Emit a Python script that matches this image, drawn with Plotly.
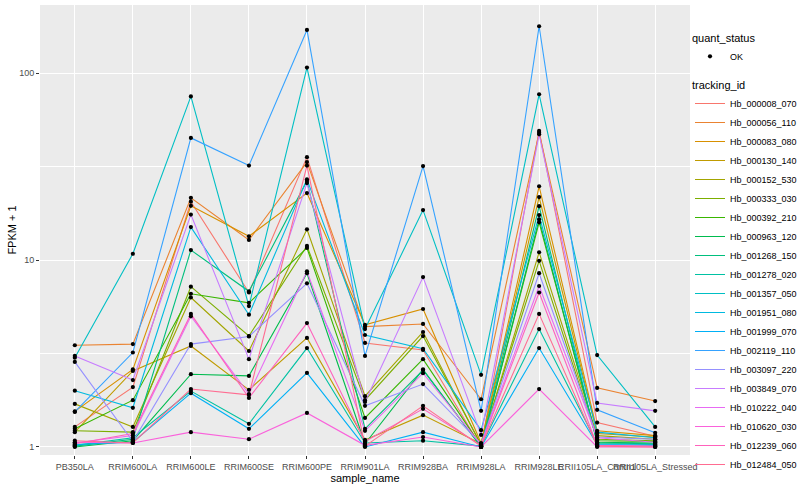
import plotly.graph_objects as go

samples = ["PB350LA", "RRIM600LA", "RRIM600LE", "RRIM600SE", "RRIM600PE", "RRIM901LA",
           "RRIM928BA", "RRIM928LA", "RRIM928LE", "RRII105LA_Control", "RRII105LA_Stressed"]

tracking_ids = ["Hb_000008_070", "Hb_000056_110", "Hb_000083_080", "Hb_000130_140", "Hb_000152_530",
                "Hb_000333_030", "Hb_000392_210", "Hb_000963_120", "Hb_001268_150", "Hb_001278_020",
                "Hb_001357_050", "Hb_001951_080", "Hb_001999_070", "Hb_002119_110", "Hb_003097_220",
                "Hb_003849_070", "Hb_010222_040", "Hb_010620_030", "Hb_012239_060", "Hb_012484_050"]

colors = ["#F8766D", "#EA8331", "#D89000", "#C09B00", "#A3A500", "#7CAE00", "#39B600", "#00BB4E",
          "#00BF7D", "#00C1A3", "#00BFC4", "#00BAE0", "#00B0F6", "#35A2FF", "#9590FF", "#C77CFF",
          "#E76BF3", "#FA62DB", "#FF62BC", "#FF6C91"]

# FPKM + 1 per tracking_id, in sample order
fpkm_plus1 = [
    [1.28, 2.09, 20.5, 6.7, 35.5, 3.6, 3.3, 1.0, 49, 1.35, 1.14],
    [3.5, 3.55, 21.5, 12.8, 33.4, 4.4, 4.55, 1.8, 48, 2.07, 1.76],
    [1.55, 2.6, 19.5, 13.4, 22.8, 4.5, 5.47, 1.05, 24.8, 1.22, 1.15],
    [1.2, 2.55, 3.47, 2.02, 3.83, 1.09, 1.48, 1.04, 21.7, 1.18, 1.13],
    [1.7, 1.28, 6.3, 3.26, 14.6, 1.87, 4.12, 1.02, 11, 1.15, 1.1],
    [1.22, 1.2, 7.2, 3.92, 11.9, 1.78, 3.92, 1.03, 9.9, 1.1, 1.08],
    [1.25, 1.78, 6.6, 5.9, 11.6, 1.43, 2.95, 1.01, 15.9, 1.08, 1.07],
    [1.0, 1.08, 2.45, 2.4, 8.5, 1.04, 2.6, 1.0, 16.5, 1.06, 1.05],
    [1.01, 1.1, 11.3, 6.8, 26.5, 1.25, 2.58, 1.0, 19.4, 1.05, 1.04],
    [1.02, 1.12, 1.99, 1.33, 3.38, 1.05, 1.08, 1.01, 4.27, 1.04, 1.03],
    [3.0, 10.8, 75, 5.67, 107, 4.27, 18.5, 2.43, 77, 3.1, 1.28],
    [2.0, 1.62, 15, 5.1, 27, 3.97, 3.35, 1.23, 17.4, 1.2, 1.12],
    [1.03, 1.06, 1.94, 1.25, 2.49, 1.0, 1.2, 1.0, 3.38, 1.03, 1.02],
    [1.54, 3.2, 45, 32, 170, 3.07, 31.8, 1.56, 178, 1.58, 1.19],
    [2.85, 1.07, 3.55, 3.9, 7.5, 1.66, 2.17, 1.04, 8.5, 1.13, 1.1],
    [3.07, 2.28, 17.5, 2.95, 25.8, 1.74, 8.1, 1.16, 47, 1.72, 1.56],
    [1.05, 1.15, 5.0, 1.92, 8.7, 1.22, 2.48, 1.03, 7.26, 1.12, 1.06],
    [1.06, 1.05, 1.2, 1.1, 1.52, 1.02, 1.13, 1.0, 2.04, 1.0, 1.0],
    [1.04, 1.18, 5.15, 1.83, 4.6, 1.07, 1.6, 1.02, 6.7, 1.02, 1.01],
    [1.08, 1.05, 2.04, 1.9, 32, 1.01, 1.66, 1.01, 5.15, 1.01, 1.0],
]

quant_status = "OK"

fig = go.Figure()

for name, col, vals in zip(tracking_ids, colors, fpkm_plus1):
    fig.add_trace(go.Scatter(
        x=samples, y=vals, mode="lines", name=name,
        line=dict(color=col, width=1.1),
        legend="legend2", hoverinfo="x+y+name",
    ))

all_x = [s for vals in fpkm_plus1 for s in samples]
all_y = [v for vals in fpkm_plus1 for v in vals]
fig.add_trace(go.Scatter(
    x=all_x, y=all_y, mode="markers", name=quant_status,
    marker=dict(color="black", size=4.2, symbol="circle"),
    legend="legend", hoverinfo="x+y",
))

font = "Liberation Sans, Arial, sans-serif"

fig.update_layout(
    width=800, height=500,
    margin=dict(l=40, r=110, t=5, b=45, autoexpand=False),
    paper_bgcolor="white",
    plot_bgcolor="#EBEBEB",
    font=dict(family=font, size=9, color="#4D4D4D"),
    showlegend=True,
    legend=dict(
        title=dict(text="quant_status", font=dict(size=11, color="black")),
        x=1.0, xanchor="left", y=0.95, yanchor="top",
        bgcolor="rgba(0,0,0,0)", font=dict(size=9, color="black"),
        itemwidth=30, tracegroupgap=0,
    ),
    legend2=dict(
        title=dict(text="tracking_id", font=dict(size=11, color="black")),
        x=1.0, xanchor="left", y=0.845, yanchor="top",
        bgcolor="rgba(0,0,0,0)", font=dict(size=9, color="black"),
        itemwidth=30, tracegroupgap=0,
    ),
    xaxis=dict(
        type="category", categoryorder="array", categoryarray=samples,
        range=[-0.6, 10.6], showgrid=True, gridcolor="white", gridwidth=1.2,
        zeroline=False, ticks="outside", ticklen=3, tickcolor="#333333",
        tickangle=0, tickfont=dict(size=9, color="#4D4D4D"),
        title=dict(text="sample_name", font=dict(size=11, color="black"), standoff=2),
        showline=False,
    ),
    yaxis=dict(
        type="log", range=[-0.043, 2.364],
        tickvals=[1, 10, 100], ticktext=["1", "10", "100"],
        showgrid=True, gridcolor="white", gridwidth=1.2, zeroline=False,
        ticks="outside", ticklen=3, tickcolor="#333333",
        tickfont=dict(size=9, color="#4D4D4D"),
        minor=dict(tickmode="array", tickvals=[3.1623, 31.623], showgrid=True,
                   gridcolor="white", gridwidth=0.6, ticks=""),
        title=dict(text="FPKM + 1", font=dict(size=11, color="black"), standoff=0),
        showline=False,
    ),
)

fig.write_html("out.html", config={"displayModeBar": False},
               post_script="document.body.style.margin='0';")
